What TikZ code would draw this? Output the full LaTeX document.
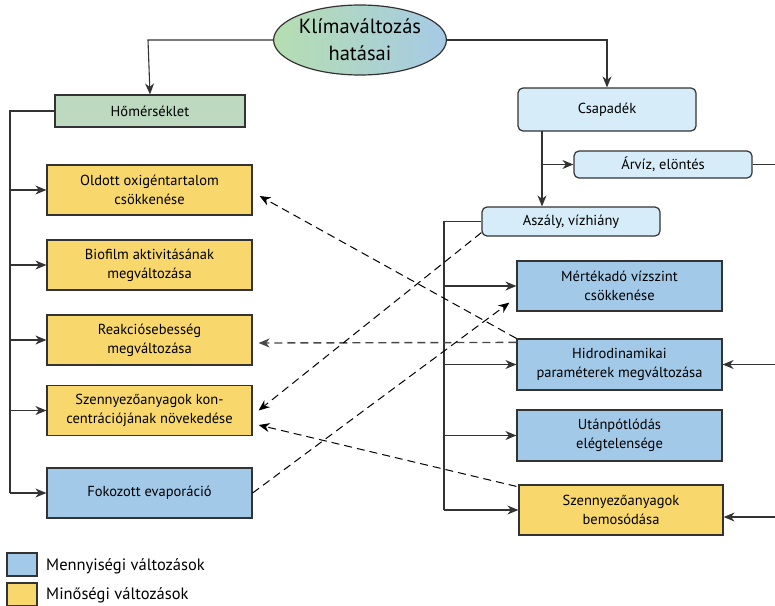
\documentclass[tikz,border=0pt]{standalone}
\usepackage{fontspec}
\setmainfont{PT Sans}
\usetikzlibrary{arrows.meta,calc,shapes.geometric}
\definecolor{cyel}{HTML}{F8D86C}
\definecolor{cblue}{HTML}{A3C9E9}
\definecolor{clight}{HTML}{D6EDF9}
\definecolor{cgreen}{HTML}{BDD9C0}
\definecolor{cgl}{HTML}{B5DEB0}
\definecolor{cbr}{HTML}{A6CAE6}
\definecolor{cedge}{HTML}{333333}
\tikzset{
  box/.style={draw=cedge, line width=1.2pt, minimum width=205pt, minimum height=50pt, align=center, font=\fontsize{14.5}{19}\selectfont, inner sep=2pt, text=black},
  ybox/.style={box, fill=cyel},
  bbox/.style={box, fill=cblue},
  lbox/.style={box, fill=clight, rounded corners=5pt, minimum width=178pt},
  conn/.style={draw=cedge, line width=1.1pt},
  arr/.style={conn, -{Stealth[length=11pt,width=9pt,inset=3.5pt]}},
  darr/.style={draw=black, line width=1pt, dash pattern=on 8pt off 5pt, -{Stealth[length=11pt,width=9pt,inset=3.5pt]}},
  garr/.style={darr, draw=black!72, line width=1.4pt},
}
\begin{document}
\begin{tikzpicture}[x=1pt,y=-1pt]
\useasboundingbox (0,0) rectangle (775,605);
% title
\node[ellipse, draw=cedge, line width=1.2pt, left color=cgl, right color=cbr, minimum width=168pt, minimum height=70pt, inner sep=0pt, align=center, font=\fontsize{20.5}{27}\selectfont] (title) at (360,40) {Klímaváltozás\\hatásai};
% left column
\node[box, fill=cgreen, minimum width=190pt, minimum height=32pt] (hom) at (150,111) {Hőmérséklet};
\node[ybox] (oldott) at (149.5,190) {Oldott oxigéntartalom\\csökkenése};
\node[ybox] (bio) at (149.5,265) {Biofilm aktivitásának\\megváltozása};
\node[ybox] (reak) at (149.5,340) {Reakciósebesség\\megváltozása};
\node[ybox] (szkon) at (149.5,410.5) {Szennyezőanyagok kon-\\centrációjának növekedése};
\node[bbox] (fok) at (149.5,493) {Fokozott evaporáció};
% right column
\node[lbox, minimum height=43pt] (csap) at (607,109.5) {Csapadék};
\node[lbox, minimum height=27pt] (arviz) at (663,164.5) {Árvíz, elöntés};
\node[lbox, minimum height=29pt] (aszaly) at (571,221.5) {Aszály, vízhiány};
\node[bbox] (mert) at (619.5,286) {Mértékadó vízszint\\csökkenése};
\node[bbox, minimum height=51pt] (hidro) at (619.5,364.5) {Hidrodinamikai\\paraméterek megváltozása};
\node[bbox, minimum height=51pt] (utan) at (619.5,435.5) {Utánpótlódás\\elégtelensége};
\node[ybox, minimum width=204pt] (bemos) at (621,510) {Szennyezőanyagok\\bemosódása};
% coordinates
\coordinate (lt) at (148,40);
\coordinate (rt) at (607,40);
\coordinate (ltrunk) at (10,111);
\coordinate (rtrunk) at (444,221.5);
\coordinate (csx) at (542,131);
\coordinate (edgeA) at (775,164.5);
\coordinate (edgeH) at (775,364.5);
\coordinate (edgeB) at (775,517);
% top connectors
\draw[arr] (title.west) -- (lt) -- (hom.north);
\draw[arr] (title.east) -- (rt) -- (csap.north);
% left trunk
\draw[conn] (hom.west) -- (ltrunk) -- (ltrunk |- fok.west);
\foreach \n in {oldott,bio,reak,szkon,fok}{
  \draw[arr] (ltrunk |- \n.west) -- (\n.west);
}
% csapadek branches
\draw[arr] (csx) -- (csx |- aszaly.north);
\draw[arr] (csx |- arviz.west) -- (arviz.west);
\draw[conn] (arviz.east) -- (edgeA);
% right trunk
\draw[conn] (aszaly.west) -- (rtrunk) -- (rtrunk |- bemos.west);
\foreach \n in {mert,hidro,utan,bemos}{
  \draw[arr] (rtrunk |- \n.west) -- (\n.west);
}
\draw[arr] (edgeH) -- (hidro.east);
\draw[arr] (edgeB) -- ($(bemos.east)+(0,7)$);
% dashed cross links
\draw[darr] (hidro.north west) -- ($(oldott.east)+(7,6)$);
\draw[garr] ($(hidro.north west)+(0,4)$) -- ($(reak.east)+(6,3)$);
\draw[darr] ($(aszaly.south west)+(0,-4)$) -- ($(szkon.east)+(6,0)$);
\draw[darr] (fok.east) -- ($(mert.south west)+(-7,-9)$);
\draw[darr] ($(bemos.north west)+(-2,2)$) -- ($(szkon.east)+(6,14.5)$);
% legend
\node[draw=cedge, line width=1.2pt, fill=cblue, minimum width=30pt, minimum height=23pt, inner sep=0pt] (lgb) at (22,564.5) {};
\node[draw=cedge, line width=1.2pt, fill=cyel, minimum width=30pt, minimum height=23pt, inner sep=0pt] (lgy) at (22,594.5) {};
\node[anchor=west, font=\fontsize{16.5}{19}\selectfont, inner sep=0pt] (lgbt) at (46,566) {Mennyiségi változások};
\node[anchor=west, font=\fontsize{16.5}{19}\selectfont, inner sep=0pt] (lgyt) at (46,595) {Minőségi változások};
\end{tikzpicture}
\end{document}
